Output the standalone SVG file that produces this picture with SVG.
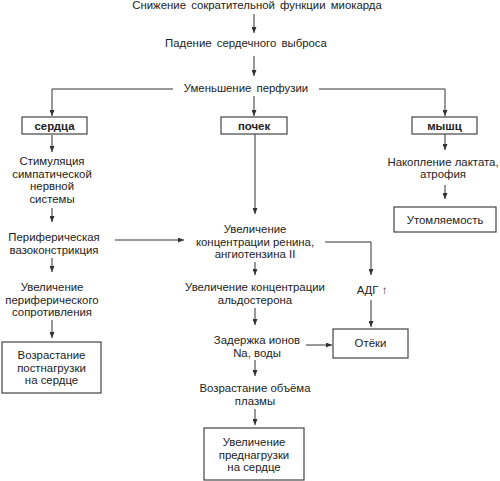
<svg xmlns="http://www.w3.org/2000/svg" width="500" height="481" viewBox="0 0 500 481">
<defs>
<marker id="ah" markerWidth="6" markerHeight="5" refX="6" refY="2.5" orient="auto" markerUnits="userSpaceOnUse">
<path d="M0,0 L6,2.5 L0,5 z" fill="#333"/>
</marker>
<style>
text{font-family:"Liberation Sans",Arial,sans-serif;font-size:11.4px;fill:#222;text-anchor:middle}
.b{font-weight:bold}
.w{word-spacing:2px}
.box{fill:#fff;stroke:#444;stroke-width:1.2}
.c{fill:none;stroke:#333;stroke-width:1}
.c path{marker-end:url(#ah)}
</style>
</defs>
<rect width="500" height="481" fill="#fff"/>
<g class="c">
<path d="M254,14 V33"/>
<path d="M254,56 V76"/>
<path d="M254,96 V116"/>
<path d="M173,89 H52 V116"/>
<path d="M319,89 H445 V116"/>
<path d="M52,135 V152"/>
<path d="M52,208 V222"/>
<path d="M52,258 V272"/>
<path d="M52,320 V338"/>
<path d="M115,240 H184"/>
<path d="M255,134 V214"/>
<path d="M255,262 V275"/>
<path d="M325,242 H371 V275"/>
<path d="M255,308 V325"/>
<path d="M371,300 V327"/>
<path d="M306,345 H332"/>
<path d="M255,360 V376"/>
<path d="M255,409 V425"/>
<path d="M445,134 V150"/>
<path d="M445,185 V199"/>
</g>
<g id="n-title"><text class="w" x="257" y="9">Снижение сократительной функции миокарда</text></g>
<g id="n-output"><text class="w" x="246" y="47">Падение сердечного выброса</text></g>
<g id="n-perfusion"><text class="w" x="246" y="92">Уменьшение перфузии</text></g>
<g id="n-heart"><rect class="box" x="22" y="117" width="65" height="17"/><text class="b" x="54.5" y="129.5">сердца</text></g>
<g id="n-kidney"><rect class="box" x="221" y="117" width="66" height="17"/><text class="b" x="254" y="129.5">почек</text></g>
<g id="n-muscle"><rect class="box" x="412" y="117" width="65" height="17"/><text class="b" x="444.5" y="129.5">мышц</text></g>
<g id="n-symp"><text x="52" y="165">Стимуляция</text><text x="52" y="177.7">симпатической</text><text x="52" y="190.4">нервной</text><text x="52" y="203">системы</text></g>
<g id="n-vaso"><text x="54" y="241">Периферическая</text><text x="54" y="253.5">вазоконстрикция</text></g>
<g id="n-resist"><text x="52" y="291">Увеличение</text><text x="52" y="303.5">периферического</text><text x="52" y="316">сопротивления</text></g>
<g id="n-afterload"><rect class="box" x="2" y="342" width="99" height="51"/><text x="51.5" y="359">Возрастание</text><text x="51.5" y="371.5">постнагрузки</text><text x="51.5" y="384">на сердце</text></g>
<g id="n-renin"><text x="255" y="233">Увеличение</text><text x="255" y="245.5">концентрации ренина,</text><text x="255" y="258">ангиотензина II</text></g>
<g id="n-aldo"><text x="255" y="291">Увеличение концентрации</text><text x="255" y="303.5">альдостерона</text></g>
<g id="n-na"><text x="257" y="344">Задержка ионов</text><text x="257" y="357">Na, воды</text></g>
<g id="n-plasma"><text x="255" y="392">Возрастание объёма</text><text x="255" y="405">плазмы</text></g>
<g id="n-preload"><rect class="box" x="204" y="428" width="100" height="52"/><text x="254" y="446">Увеличение</text><text x="254" y="458.5">преднагрузки</text><text x="254" y="471">на сердце</text></g>
<g id="n-lactate"><text x="443" y="166">Накопление лактата,</text><text x="443" y="178">атрофия</text></g>
<g id="n-fatigue"><rect class="box" x="394" y="207" width="102" height="25"/><text x="445" y="223.5">Утомляемость</text></g>
<g id="n-adh"><text x="372" y="294">АДГ ↑</text></g>
<g id="n-edema"><rect class="box" x="333" y="329" width="75" height="29"/><text x="370.5" y="347">Отёки</text></g>
</svg>
